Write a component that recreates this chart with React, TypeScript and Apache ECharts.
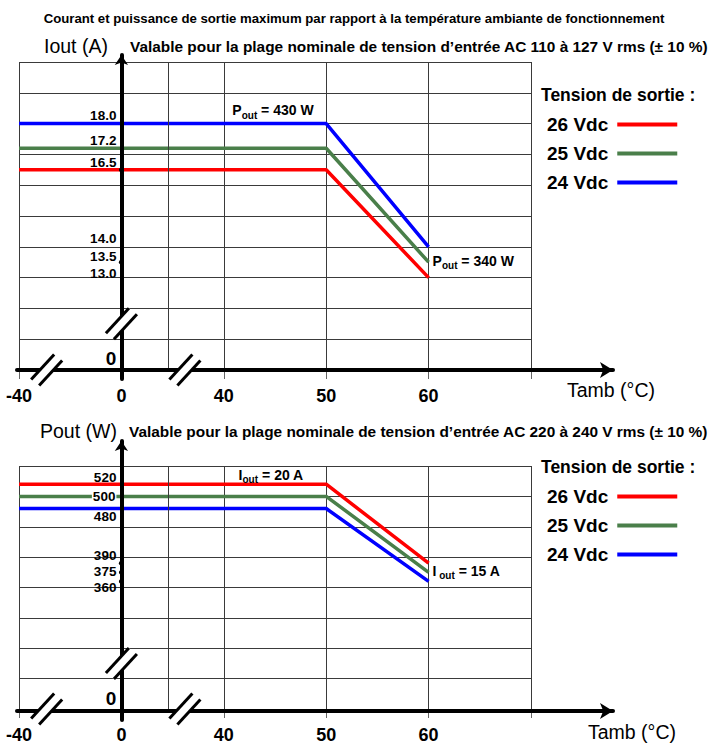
import React, { useEffect, useRef } from "react";
import * as echarts from "echarts";

// ---------- data ----------
const X_TICKS = [-40, 0, 40, 50, 60, 70];
const X_TICK_LABELS = ["-40", "0", "40", "50", "60", ""];
const TEMPS = [-40, 50, 60];

const TOP_26 = [16.5, 16.5, 13.0];
const TOP_25 = [17.2, 17.2, 13.5];
const TOP_24 = [18.0, 18.0, 14.0];
const TOP_Y_LABELS = [18.0, 17.2, 16.5, 14.0, 13.5, 13.0];
const TOP_Y_DOTS = [16.5, 13.5];

const BOT_26 = [520, 520, 390];
const BOT_25 = [500, 500, 375];
const BOT_24 = [480, 480, 360];
const BOT_Y_LABELS = [520, 500, 480, 390, 375, 360];
const BOT_Y_DOTS = [390, 375, 360];

const SERIES_NAMES = ["26 Vdc", "25 Vdc", "24 Vdc"];

// ---------- styles / layout ----------
const COLORS = ["#ff0000", "#4a7f4a", "#0000ff"];
const FONT = "'Liberation Sans', Arial, sans-serif";
const GRID_COLOR = "#3a3a3a";
const TOP_Y_LABEL_DY = [-8, -8, -7, -8, -6, -4];
const BOT_Y_LABEL_DY = [-7, 0, 8, -8, -1, 6];

const xPos = (t: number) => {
  for (let i = 0; i < X_TICKS.length - 1; i++) {
    if (t <= X_TICKS[i + 1]) return i + (t - X_TICKS[i]) / (X_TICKS[i + 1] - X_TICKS[i]);
  }
  return X_TICKS.length - 1;
};

type Ann = { text: string; sub: string; rest: string; t: number; v: number; dx: number; dy: number };
type Cfg = {
  top: number;
  height: number;
  yMin: number;
  yMax: number;
  yInt: number;
  tipY: number;
  values: number[][];
  yLabels: number[];
  yLabelDy: number[];
  fmt: (v: number) => string;
  whiteBg: number[];
  dots: number[];
  zeroDy: number;
  yBreak: number;
  annTop: Ann;
  annEnd: Ann;
  legendTop: number;
};

function sub(main: string, s: string, rest: string) {
  return `{a|${main}}{b|${s}}{a|${rest}}`;
}
const SUB_RICH = {
  a: { fontSize: 14, fontWeight: "bold", fontFamily: FONT, color: "#000", padding: [0, 0, 3, 0], verticalAlign: "bottom" },
  b: { fontSize: 10, fontWeight: "bold", fontFamily: FONT, color: "#000", verticalAlign: "bottom" },
};

function build(k: number, c: Cfg) {
  const g0 = k * 3, g1 = k * 3 + 1, g2 = k * 3 + 2;
  const axisBottom = c.top + c.height;
  const grids = [
    { left: 19, top: c.top, width: 512, height: c.height },
    { left: 17, top: c.top, width: 596, height: c.height },
    { left: 19 + 512 / 5, top: c.tipY + 5, width: 50, height: axisBottom + 9 - (c.tipY + 5) },
  ];
  const xAxes = [
    {
      gridIndex: g0, type: "value", min: 0, max: 5, interval: 1,
      axisLine: { show: false },
      axisTick: { show: true, length: 9, lineStyle: { color: "#666", width: 1 } },
      axisLabel: {
        show: true, formatter: (v: number) => X_TICK_LABELS[Math.round(v)] ?? "",
        fontFamily: FONT, fontWeight: "bold", fontSize: 18, color: "#000", margin: 17,
      },
      splitLine: { show: true, lineStyle: { color: GRID_COLOR, width: 1 } },
    },
    {
      gridIndex: g1, type: "value", min: 0, max: 1, z: 5,
      axisLine: { show: true, onZero: false, lineStyle: { color: "#000", width: 4 }, symbol: ["none", "arrow"], symbolSize: [12, 13] },
      axisTick: { show: false }, axisLabel: { show: false }, splitLine: { show: false },
    },
    { gridIndex: g2, type: "value", min: 0, max: 1, show: false },
  ];
  const yAxes = [
    {
      gridIndex: g0, type: "value", min: c.yMin, max: c.yMax, interval: c.yInt,
      axisLine: { show: false }, axisTick: { show: false }, axisLabel: { show: false },
      splitLine: { show: true, lineStyle: { color: GRID_COLOR, width: 1 } },
    },
    { gridIndex: g1, type: "value", min: 0, max: 1, show: false },
    {
      gridIndex: g2, type: "value", min: 0, max: 1, position: "left", z: 5,
      axisLine: { show: true, onZero: false, lineStyle: { color: "#000", width: 4 }, symbol: ["none", "arrow"], symbolSize: [10, 10] },
      axisTick: { show: false }, axisLabel: { show: false }, splitLine: { show: false },
    },
  ];
  const series: any[] = [];
  c.values.forEach((vals, i) => {
    series.push({
      type: "line", name: SERIES_NAMES[i], xAxisIndex: g0, yAxisIndex: g0,
      data: TEMPS.map((t, j) => [xPos(t), vals[j]]),
      symbol: "none", color: COLORS[i], lineStyle: { color: COLORS[i], width: 3.5 },
      itemStyle: { color: COLORS[i] }, z: 3, silent: true,
    });
  });
  // y labels
  series.push({
    type: "scatter", name: "ylabels" + k, xAxisIndex: g0, yAxisIndex: g0, symbolSize: 0, z: 12, silent: true,
    itemStyle: { opacity: 1 },
    data: [
      ...c.yLabels.map((v, i) => ({
        value: [xPos(0), v],
        label: {
          offset: [0, c.yLabelDy[i]],
          ...(c.whiteBg.includes(v) ? { backgroundColor: "#fff", padding: [0, 1, 0, 1] } : {}),
        },
      })),
      { value: [xPos(0), c.yMin], label: { fontSize: 19, lineHeight: 19, offset: [0, c.zeroDy], formatter: "0" } },
    ],
    label: {
      show: true, position: "left", distance: 5, fontFamily: FONT, fontWeight: "bold", fontSize: 13.5, lineHeight: 14,
      color: "#000", opacity: 1,
      formatter: (p: any) => c.fmt(p.value[1]),
    },
  });
  // dots
  series.push({
    type: "scatter", name: "dots" + k, xAxisIndex: g0, yAxisIndex: g0, symbolSize: 5, z: 12, silent: true,
    itemStyle: { color: "#000", opacity: 1 }, data: c.dots.map((v) => [xPos(0), v]),
  });
  // annotations
  series.push({
    type: "scatter", name: "ann" + k, xAxisIndex: g0, yAxisIndex: g0, symbolSize: 0, z: 12, silent: true,
    itemStyle: { opacity: 1 },
    data: [
      {
        value: [xPos(c.annTop.t), c.annTop.v],
        label: { show: true, position: "inside", offset: [c.annTop.dx, c.annTop.dy], formatter: sub(c.annTop.text, c.annTop.sub, c.annTop.rest), rich: SUB_RICH },
      },
      {
        value: [xPos(c.annEnd.t), c.annEnd.v],
        label: { show: true, position: "right", distance: 4, offset: [c.annEnd.dx, c.annEnd.dy], formatter: sub(c.annEnd.text, c.annEnd.sub, c.annEnd.rest), rich: SUB_RICH },
      },
    ],
  });
  // axis breaks
  series.push({
    type: "custom", name: "breaks" + k, xAxisIndex: g0, yAxisIndex: g0, z: 15, clip: false, silent: true,
    data: [[0.27, c.yMin], [1.62, c.yMin], [1, c.yBreak]],
    renderItem: (_p: any, api: any) => {
      const p = api.coord([api.value(0), api.value(1)]);
      const hx = 11.5, hy = -12.5, ox = 4, oy = 3;
      const c1 = [p[0] - ox, p[1] - oy], c2 = [p[0] + ox, p[1] + oy];
      const ln = (cc: number[]) => ({
        type: "line",
        shape: { x1: cc[0] - hx, y1: cc[1] - hy, x2: cc[0] + hx, y2: cc[1] + hy },
        style: { stroke: "#000", lineWidth: 3 },
      });
      return {
        type: "group",
        children: [
          {
            type: "polygon",
            shape: { points: [[c1[0] - hx, c1[1] - hy], [c1[0] + hx, c1[1] + hy], [c2[0] + hx, c2[1] + hy], [c2[0] - hx, c2[1] - hy]] },
            style: { fill: "#fff" },
          },
          ln(c1), ln(c2),
        ],
      };
    },
  });
  // extra split line inside the axis break region
  series.push({
    type: "line", name: "extra" + k, xAxisIndex: g0, yAxisIndex: g0, z: 1, silent: true, symbol: "none",
    data: [], markLine: { silent: true, symbol: "none", label: { show: false }, lineStyle: { color: GRID_COLOR, width: 1, type: "solid" }, data: [{ xAxis: 1.46 }] },
  });
  const legend = {
    orient: "vertical", left: 542, top: c.legendTop, align: "right", icon: "rect",
    itemWidth: 60, itemHeight: 4, itemGap: 8, selectedMode: false,
    data: SERIES_NAMES,
    textStyle: { fontFamily: FONT, fontWeight: "bold", fontSize: 19, color: "#000", lineHeight: 21, padding: [0, 4, 0, 0] },
  };
  return { grids, xAxes, yAxes, series, legend };
}

const txt = (text: string, x: number, y: number, size: number, bold: boolean, align = "left") => ({
  type: "text", x, y, z: 20,
  style: {
    text, fill: "#000", font: `${bold ? "bold " : ""}${size}px ${FONT}`,
    fontSize: size, fontWeight: bold ? "bold" : "normal", fontFamily: FONT,
    align, verticalAlign: "middle", textAlign: align, textVerticalAlign: "middle",
  },
});

export default function App() {
  const ref = useRef<HTMLDivElement>(null);
  useEffect(() => {
    document.body.style.margin = "0";
    if (!ref.current) return;
    const chart = echarts.init(ref.current, undefined, { renderer: "svg" });
    const top = build(0, {
      top: 62, height: 308, yMin: 10, yMax: 20, yInt: 1, tipY: 50,
      values: [TOP_26, TOP_25, TOP_24], yLabels: TOP_Y_LABELS, yLabelDy: TOP_Y_LABEL_DY,
      fmt: (v) => v.toFixed(1), whiteBg: [], dots: TOP_Y_DOTS, zeroDy: -12, yBreak: 11.5,
      annTop: { text: "P", sub: "out", rest: " = 430 W", t: 45, v: 18, dx: -2, dy: -12 },
      annEnd: { text: "P", sub: "out", rest: " = 340 W", t: 60, v: 13.5, dx: 0, dy: 0 },
      legendTop: 109,
    });
    const bot = build(1, {
      top: 466, height: 245, yMin: 150, yMax: 550, yInt: 50, tipY: 436,
      values: [BOT_26, BOT_25, BOT_24], yLabels: BOT_Y_LABELS, yLabelDy: BOT_Y_LABEL_DY,
      fmt: (v) => String(v), whiteBg: [500], dots: BOT_Y_DOTS, zeroDy: -11, yBreak: 225,
      annTop: { text: "I", sub: "out", rest: " = 20 A", t: 45, v: 520, dx: -4, dy: -8 },
      annEnd: { text: "I", sub: " out", rest: " = 15 A", t: 60, v: 375, dx: 0, dy: 0 },
      legendTop: 481,
    });
    const option: any = {
      animation: false,
      backgroundColor: "#fff",
      grid: [...top.grids, ...bot.grids],
      xAxis: [...top.xAxes, ...bot.xAxes],
      yAxis: [...top.yAxes, ...bot.yAxes],
      series: [...top.series, ...bot.series],
      legend: [top.legend, bot.legend],
      graphic: [
        txt("Courant et puissance de sortie maximum par rapport à la température ambiante de fonctionnement", 354, 18, 13.2, true, "center"),
        txt("Iout (A)", 44, 46, 19.5, false),
        txt("Valable pour la plage nominale de tension d’entrée AC 110 à 127 V rms (± 10 %)", 130, 46, 15.4, true),
        txt("Pout (W)", 40, 431, 19.5, false),
        txt("Valable pour la plage nominale de tension d’entrée AC 220 à 240 V rms (± 10 %)", 129, 431, 15.4, true),
        txt("Tension de sortie :", 541, 95, 17.5, true),
        txt("Tension de sortie :", 541, 467, 17.5, true),
        txt("Tamb (°C)", 567, 390, 19.5, false),
        txt("Tamb (°C)", 588, 732, 19.5, false),
      ],
    };
    chart.setOption(option);
    return () => chart.dispose();
  }, []);
  return <div ref={ref} style={{ width: 709, height: 744 }} />;
}
